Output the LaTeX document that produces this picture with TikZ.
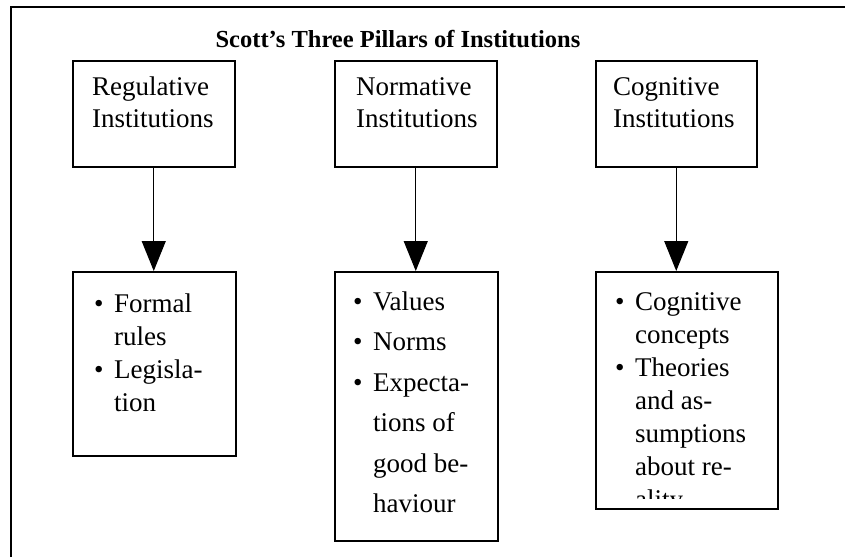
\documentclass[tikz,border=0pt]{standalone}
\usepackage{fontspec}
\setmainfont{Liberation Serif}
\usetikzlibrary{arrows.meta}
\newcommand\bitem[1]{\makebox[20pt][l]{\textbullet}#1}
\newcommand\bcont[1]{\hspace*{20pt}#1}
\begin{document}
\begin{tikzpicture}[x=1pt,y=-1pt,
  box/.style={draw, line width=1.5pt, inner sep=0pt, anchor=north west},
  arr/.style={line width=1.2pt, -{Triangle[length=30pt,width=24pt]}},
  lbl/.style={anchor=base west, inner sep=0pt, font=\fontsize{27}{32}\selectfont},
  blt/.style={anchor=base west, inner sep=0pt, font=\fontsize{27}{33}\selectfont}]
\useasboundingbox (0,0) rectangle (845,557);
\fill[white] (0,0) rectangle (845,557);
% frame
\draw[line width=2.5pt] (11,557) -- (11,7) -- (845,7);
% title
\node[anchor=base, inner sep=0pt, font=\fontsize{24.5}{28}\selectfont\bfseries] (title) at (398,47) {Scott’s Three Pillars of Institutions};
% top boxes
\node[box, minimum width=162pt, minimum height=106pt] (t1) at (72,60) {};
\node[box, minimum width=162pt, minimum height=106pt] (t2) at (334,60) {};
\node[box, minimum width=161pt, minimum height=106pt] (t3) at (595,60) {};
\node[lbl] (t1txt) at (92,95) {\begin{tabular}[t]{@{}l@{}}Regulative\\Institutions\end{tabular}};
\node[lbl] (t2txt) at (356,95) {\begin{tabular}[t]{@{}l@{}}Normative\\Institutions\end{tabular}};
\node[lbl] (t3txt) at (613,95) {\begin{tabular}[t]{@{}l@{}}Cognitive\\Institutions\end{tabular}};
% bottom boxes
\node[box, minimum width=163pt, minimum height=184pt] (b1) at (72,271) {};
\node[box, minimum width=163pt, minimum height=269pt] (b2) at (334,271) {};
\node[box, minimum width=182pt, minimum height=237pt] (b3) at (595,271) {};
\node[blt] (b1txt) at (94,312) {\begin{tabular}[t]{@{}l@{}}\bitem{Formal}\\\bcont{rules}\\\bitem{Legisla-}\\\bcont{tion}\end{tabular}};
\node[blt, font=\fontsize{27}{40.5}\selectfont] (b2txt) at (353,310) {\begin{tabular}[t]{@{}l@{}}\bitem{Values}\\\bitem{Norms}\\\bitem{Expecta-}\\\bcont{tions of}\\\bcont{good be-}\\\bcont{haviour}\end{tabular}};
\begin{scope}
\clip (595,271) rectangle (777,498);
\node[blt] (b3txt) at (615,310) {\begin{tabular}[t]{@{}l@{}}\bitem{Cognitive}\\\bcont{concepts}\\\bitem{Theories}\\\bcont{and as-}\\\bcont{sumptions}\\\bcont{about re-}\\\bcont{ality}\end{tabular}};
\end{scope}
% arrows
\draw[arr] (t1.south) -- (t1.south |- b1.north);
\draw[arr] (t2.south) -- (t2.south |- b2.north);
\draw[arr] (t3.south) -- (t3.south |- b3.north);
\end{tikzpicture}
\end{document}
